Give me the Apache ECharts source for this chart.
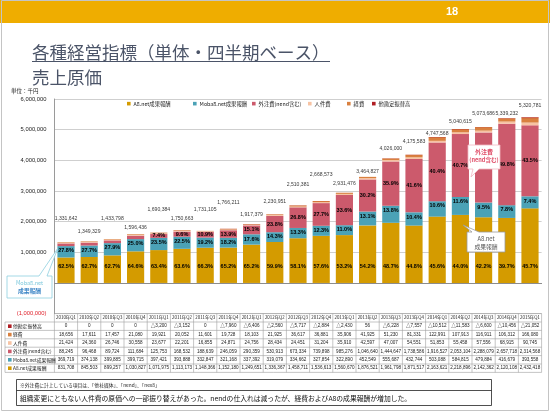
<!DOCTYPE html>
<html><head><meta charset="utf-8">
<script src="https://cdn.jsdelivr.net/npm/echarts@6/dist/echarts.min.js"></script>
<style>html,body{margin:0;padding:0;background:#fff}#c{width:550px;height:413px}</style>
</head><body><div id="c"></div>
<script>
// ---------------- data ----------------
const categories = ['2010年Q1','2010年Q2','2010年Q3','2010年Q4','2011年Q1','2011年Q2','2011年Q3','2011年Q4','2012年Q1','2012年Q2','2012年Q3','2012年Q4','2013年Q1','2013年Q2','2013年Q3','2013年Q4','2014年Q1','2014年Q2','2014年Q3','2014年Q4','2015年Q1'];
const a8Reward    = [831708,845503,899257,1030827,1071975,1113173,1148366,1152180,1249651,1336367,1458711,1536613,1560670,1876521,1961798,1871517,2163621,2218896,2142362,2120108,2432418];
const moba8Reward = [369719,374138,399885,399715,397421,393888,332847,321168,337392,319079,334662,327854,322890,452549,555687,432744,503088,584815,479884,416679,393558];
const outsourcing = [88245,96468,89724,111684,125753,168532,188639,246059,290359,530913,673334,739898,985276,1046640,1444647,1738586,1916527,2053104,2288079,2657718,2314568];
const personnel   = [21424,24360,26746,30558,23677,22201,16855,24871,24756,28434,24451,31204,35910,42597,47007,54551,51853,55458,57556,68915,90745];
const expenses    = [18656,17611,17457,21080,19921,20052,11601,19728,18103,21925,36617,36881,35906,41925,51230,81331,122991,107913,116911,106312,166080];
const transfers   = [0,0,0,0,-3200,-3152,0,-7960,-6406,-2560,-5717,-2884,-2430,56,-6228,-7557,-10512,-11583,-6600,-10456,-21052];
const totals      = [1331642,1349329,1433798,1596436,1690384,1750663,1731105,1766211,1917379,2230951,2510381,2668573,2931476,3464827,4026000,4175583,4747568,5040615,5073686,5339232,5320781];
const yTicks = {min:-1000000, max:6000000, interval:1000000};
const seriesNames = ['A8.net成果報酬','Moba8.net成果報酬','外注費(nend含む)','人件費','経費','他勘定振替高'];

// ---------------- style ----------------
const colors = ['#D49B00','#4BA2B6','#CC5A6C','#F7C3A3','#D9803F','#B01E24'];
const labelLift = [24,10,21,7,22,11,21,27,10,13,22,27,10,6,11,14,4,7,14,6,15];
const legendLeft = [127,193,252,308,347,372];
const JP = '"Noto Sans CJK JP","Liberation Sans",sans-serif';
const NUM = '"Liberation Sans","Noto Sans CJK JP",sans-serif';
const fmt = v => Math.round(v).toLocaleString('en-US');
const pct = (v,i) => (v/totals[i]*100).toFixed(1)+'%';
const GL = 54.4, GR = 8.4, GT = 99, GB = 99.4;

const chart = echarts.init(document.getElementById('c'), null, {renderer:'canvas'});
const dataSets = [a8Reward, moba8Reward, outsourcing, personnel, expenses, transfers];
const pctLabel = {show:true, fontSize:5.5, fontWeight:'bold', color:'#000', fontFamily:NUM};
const series = dataSets.map((d,k)=>{
  const s = {name:seriesNames[k], type:'bar', stack:'cost', stackStrategy:'all', data:d,
    barWidth:'74%', itemStyle:{color:colors[k]}, silent:true, label:{show:false}};
  if(k===0) s.label = Object.assign({}, pctLabel, {position:'insideBottom', distance:14, formatter:p=>pct(p.value,p.dataIndex)});
  if(k===1) s.label = Object.assign({}, pctLabel, {position:'insideTop', distance:2, formatter:p=>pct(p.value,p.dataIndex)});
  if(k===2) s.label = Object.assign({}, pctLabel, {position:'inside', formatter:p=> (p.value/totals[p.dataIndex] > 0.072 ? pct(p.value,p.dataIndex) : '')});
  return s;
});
series.push({type:'scatter', symbolSize:0, silent:true, z:10,
  data: totals.map((v,i)=>({value:v, label:{offset:[0, -(labelLift[i]-3)]}})),
  label:{show:true, position:'top', distance:0, fontSize:5.1, color:'#000', fontFamily:NUM, formatter:p=>fmt(p.value)}});

chart.setOption({
  animation:false,
  textStyle:{fontFamily:JP},
  grid:{left:GL, right:GR, top:GT, bottom:GB, containLabel:false},
  legend: seriesNames.map((n,k)=>({data:[n], left:legendLeft[k], top:101, icon:'rect', itemWidth:3.6, itemHeight:3.6, itemGap:2,
    padding:0, textStyle:{fontSize:5.3, color:'#222', fontFamily:JP, padding:[0,0,0,-2]}, selectedMode:false})),
  xAxis:{type:'category', data:categories, axisLabel:{show:false}, axisTick:{show:false},
    axisLine:{show:true, onZero:true, lineStyle:{color:'#8c8c8c', width:1}}},
  yAxis:{type:'value', min:yTicks.min, max:yTicks.max, interval:yTicks.interval,
    axisLine:{show:true, lineStyle:{color:'#9a9a9a'}}, axisTick:{show:false},
    splitLine:{lineStyle:{color:'#cfcfcf', width:1}},
    axisLabel:{fontSize:5.8, margin:8, fontFamily:NUM, color:v=> v<0 ? '#E0202A' : '#222',
      formatter:v=> v<0 ? '('+fmt(-v)+')' : fmt(v)}},
  series
});

// --------------- table & slide decorations ---------------
const g = [];
g.push({type:'rect', shape:{x:0,y:0,width:550,height:23}, style:{fill:'#EFAD00'}, z:0});
g.push({type:'text', x:446, y:12, style:{text:'18', fill:'#fff', font:'bold 11px "Liberation Sans",sans-serif', textVerticalAlign:'middle'}});
g.push({type:'rect', shape:{x:1.5,y:0.5,width:547,height:410}, style:{fill:null, stroke:'#c4c4c4', lineWidth:1}, z:0});
g.push({type:'text', x:32, y:52, style:{text:'各種経営指標（単体・四半期ベース）', fill:'#4B5468', font:'17.5px "Noto Sans CJK JP"', textVerticalAlign:'middle'}});
g.push({type:'line', shape:{x1:32,y1:61.5,x2:330,y2:61.5}, style:{stroke:'#4B5468', lineWidth:1}});
g.push({type:'text', x:32, y:77, style:{text:'売上原価', fill:'#4B5468', font:'17.5px "Noto Sans CJK JP"', textVerticalAlign:'middle'}});
g.push({type:'text', x:11, y:91, style:{text:'単位：千円', fill:'#222', font:'5.5px "Noto Sans CJK JP"', textVerticalAlign:'middle'}});

const band = (550-GL-GR)/categories.length;
const centers = categories.map((c,i)=>chart.convertToPixel({xAxisIndex:0}, i));
const tTop = 313.6, hBot = 322, rowH = 8.4, tLeft = 5, tRight = 550-GR;
const rows = [
  {name:'他勘定振替高', data:transfers, color:colors[5]},
  {name:'経費', data:expenses, color:colors[4]},
  {name:'人件費', data:personnel, color:colors[3]},
  {name:'外注費(nend含む)', data:outsourcing, color:colors[2]},
  {name:'Moba8.net成果報酬', data:moba8Reward, color:colors[1]},
  {name:'A8.net成果報酬', data:a8Reward, color:colors[0]}
];
const tBot = hBot + rows.length*rowH;
const lineSt = {stroke:'#9d9d9d', lineWidth:0.6};
g.push({type:'line', shape:{x1:GL,y1:tTop,x2:tRight,y2:tTop}, style:lineSt});
for(let r=0;r<=rows.length;r++){
  const y = hBot + r*rowH;
  g.push({type:'line', shape:{x1:tLeft,y1:y,x2:tRight,y2:y}, style:lineSt});
}
g.push({type:'line', shape:{x1:tLeft,y1:hBot,x2:tLeft,y2:tBot}, style:lineSt});
for(let i=0;i<=categories.length;i++){
  const x = GL + i*band;
  g.push({type:'line', shape:{x1:x,y1:tTop,x2:x,y2:tBot}, style:lineSt});
}
categories.forEach((c,i)=>{
  g.push({type:'text', x:centers[i], y:(tTop+hBot)/2, style:{text:c, fill:'#222', font:'4.4px "Noto Sans CJK JP"', align:'center', verticalAlign:'middle'}});
});
rows.forEach((row,r)=>{
  const yc = hBot + r*rowH + rowH/2;
  g.push({type:'rect', shape:{x:8,y:yc-1.8,width:3.6,height:3.6}, style:{fill:row.color}});
  g.push({type:'text', x:13, y:yc, style:{text:row.name, fill:'#222', font:'4.8px "Noto Sans CJK JP"', verticalAlign:'middle'}});
  row.data.forEach((v,i)=>{
    const t = v<0 ? '△'+fmt(-v) : fmt(v);
    g.push({type:'text', x:centers[i], y:yc, style:{text:t, fill:'#222', font:'4.6px "Liberation Sans","Noto Sans CJK JP"', align:'center', verticalAlign:'middle'}});
  });
});

g.push({type:'rect', shape:{x:16.5,y:379.5,width:475,height:26}, style:{fill:'#fff', stroke:'#222', lineWidth:0.8}});
g.push({type:'line', shape:{x1:16.5,y1:390.5,x2:491.5,y2:390.5}, style:{stroke:'#222', lineWidth:0.8}});
g.push({type:'text', x:20, y:385, style:{text:'※外注費に計上している項目は、「他社媒体」、「nend」、「nex8」', fill:'#222', font:'4.8px "Noto Sans CJK JP"', verticalAlign:'middle'}});
g.push({type:'text', x:20, y:398, style:{text:'組織変更にともない人件費の原価への一部振り替えがあった。nendの仕入れは減ったが、経費およびA8の成果報酬が増加した。', fill:'#111', font:'6.8px "Noto Sans CJK JP"', verticalAlign:'middle'}});

g.push({type:'polygon', shape:{points:[[7,276],[39,276],[58,248],[47,276],[52,276],[52,298],[7,298]]}, style:{fill:'#fff', stroke:'#8ECFE0', lineWidth:0.8}, z:20});
g.push({type:'text', x:29.5, y:282.5, z:21, style:{text:'Moba8.net', fill:'#7CC8DC', font:'5.5px "Noto Sans CJK JP"', align:'center', verticalAlign:'middle'}});
g.push({type:'text', x:29.5, y:291, z:21, style:{text:'成果報酬', fill:'#3D86C6', font:'bold 5.8px "Noto Sans CJK JP"', align:'center', verticalAlign:'middle'}});

g.push({type:'polygon', shape:{points:[[468,145],[500,145],[500,169],[479,169],[471,177],[473,169],[468,169]]}, style:{fill:'#fff', stroke:'#F2B7C2', lineWidth:0.8}, z:20});
g.push({type:'text', x:484, y:151.5, z:21, style:{text:'外注費', fill:'#E0506A', font:'bold 6px "Noto Sans CJK JP"', align:'center', verticalAlign:'middle'}});
g.push({type:'text', x:484, y:160, z:21, style:{text:'(nend含む)', fill:'#E0506A', font:'bold 5.6px "Noto Sans CJK JP"', align:'center', verticalAlign:'middle'}});

g.push({type:'polygon', shape:{points:[[467,232],[472,232],[463,225],[479,232],[505,232],[505,252],[467,252]]}, style:{fill:'#fff', stroke:'#9a9a9a', lineWidth:0.8}, z:20});
g.push({type:'text', x:486, y:238.5, z:21, style:{text:'A8.net', fill:'#555', font:'5.8px "Noto Sans CJK JP"', align:'center', verticalAlign:'middle'}});
g.push({type:'text', x:486, y:246.5, z:21, style:{text:'成果報酬', fill:'#555', font:'5.8px "Noto Sans CJK JP"', align:'center', verticalAlign:'middle'}});

chart.setOption({graphic:{elements:g}});
</script></body></html>
